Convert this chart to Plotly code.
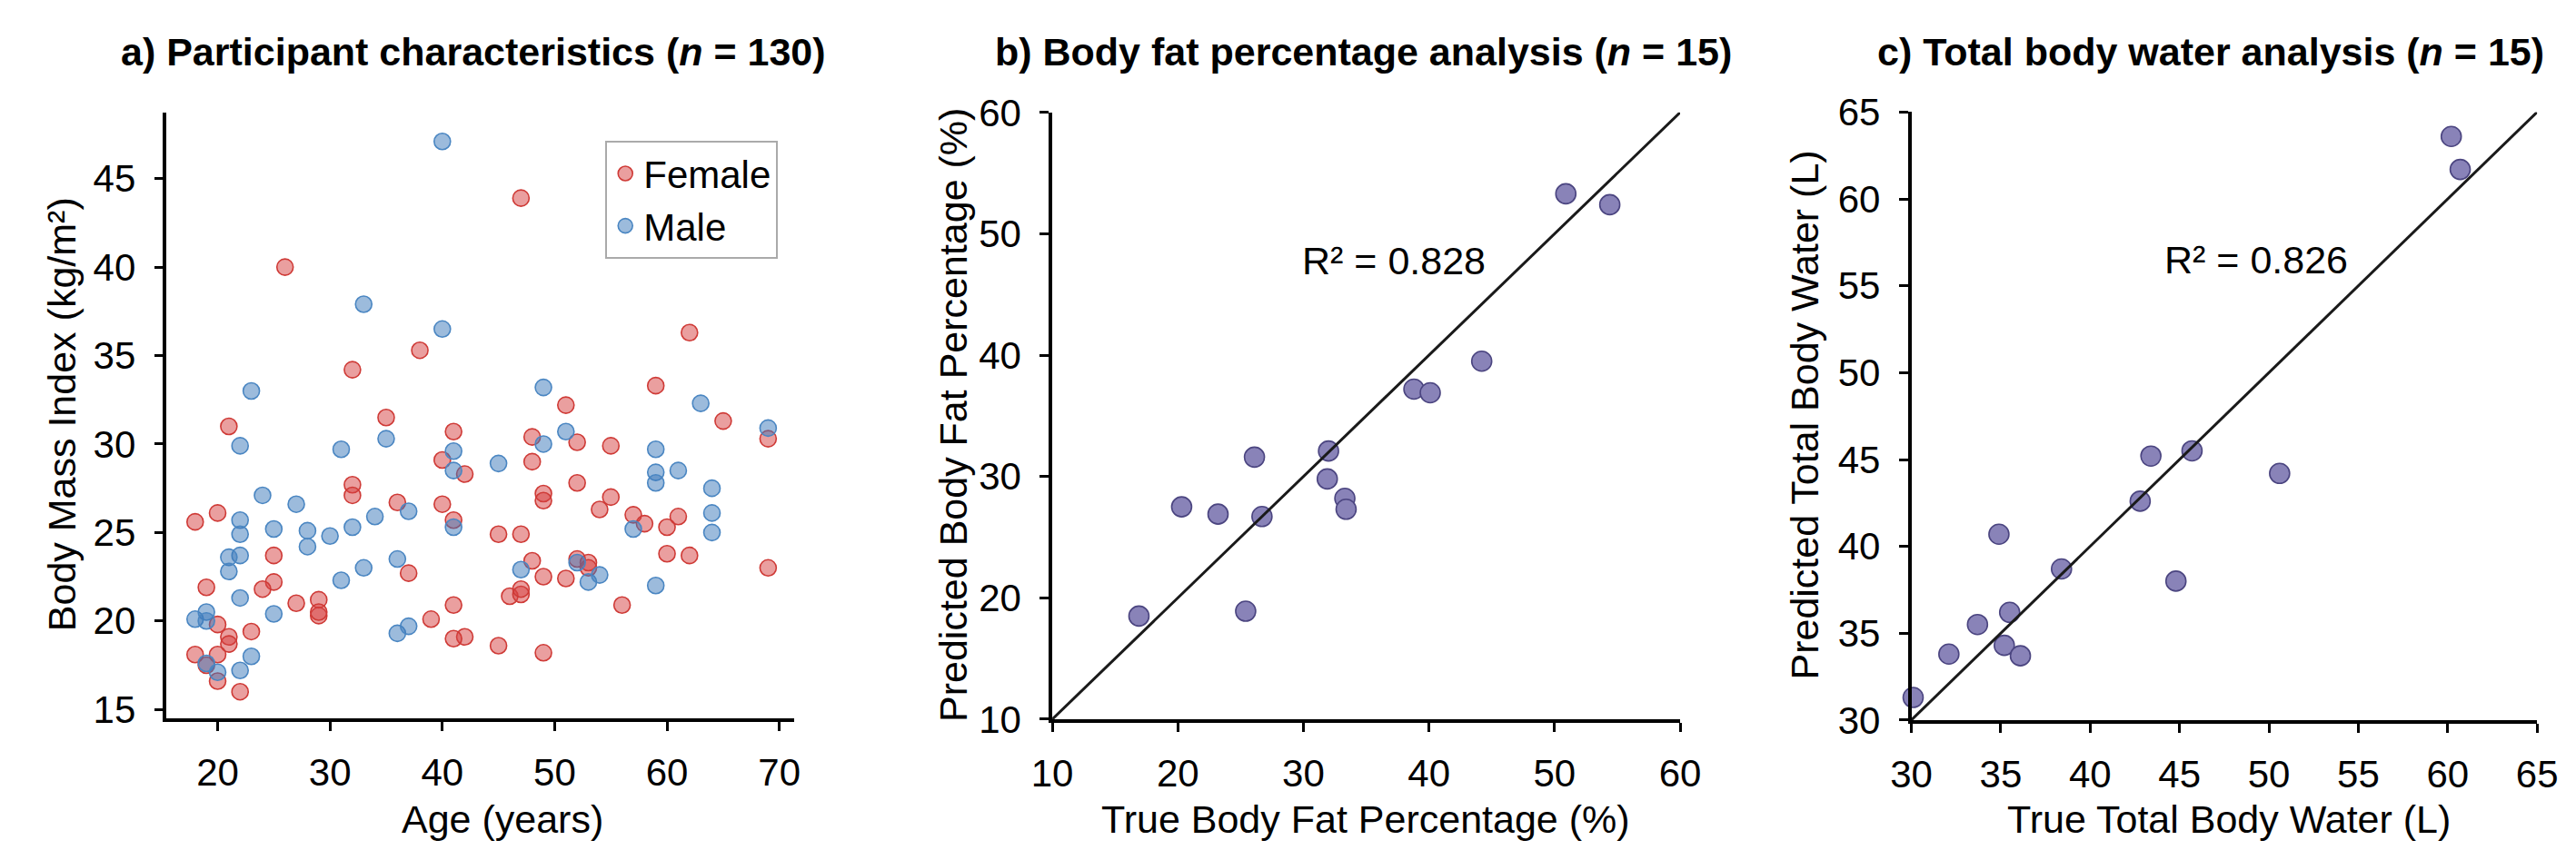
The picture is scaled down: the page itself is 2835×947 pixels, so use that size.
import plotly.graph_objects as go

# ---------------- data ----------------
# Panel a: participant characteristics
female_age = [26, 38, 32, 35, 21, 41, 47, 62, 59, 51, 65, 69, 48, 52, 55, 42, 48, 52, 49, 49,
              55, 54, 57, 58, 60, 61, 41, 45, 47, 60, 62, 69, 48, 49, 51, 52, 53, 53, 46, 47,
              47, 56, 41, 42, 41, 45, 49, 40, 32, 32, 36, 40, 20, 18, 25, 37, 25, 24, 19, 27,
              29, 29, 29, 20, 21, 21, 23, 39, 18, 20, 20, 22, 19]
female_bmi = [40.0, 35.3, 34.2, 31.5, 31.0, 30.7, 43.9, 36.3, 33.3, 32.2, 31.3, 30.3, 30.4, 30.1, 29.9, 28.3, 29.0, 27.8, 27.2, 26.8,
              27.0, 26.3, 26.0, 25.5, 25.3, 25.9, 25.7, 24.9, 24.9, 23.8, 23.7, 23.0, 23.4, 22.5, 22.4, 23.5, 23.3, 23.0, 21.4, 21.5,
              21.8, 20.9, 20.9, 19.1, 19.0, 18.6, 18.2, 29.1, 27.7, 27.1, 26.7, 26.6, 26.1, 25.6, 23.7, 22.7, 22.2, 21.8, 21.9, 21.0,
              21.2, 20.3, 20.5, 19.8, 19.1, 18.7, 19.4, 20.1, 18.1, 18.1, 16.6, 16.0, 17.5]
male_age = [40, 33, 40, 23, 35, 22, 31, 49, 63, 69, 51, 49, 59, 41, 41, 45, 59, 59, 61, 64,
            57, 64, 64, 41, 47, 52, 53, 54, 59, 24, 27, 37, 22, 22, 25, 28, 28, 30, 32, 34,
            22, 21, 21, 36, 33, 31, 22, 25, 18, 19, 19, 36, 37, 19, 20, 22, 23]
male_bmi = [47.1, 37.9, 36.5, 33.0, 30.3, 29.9, 29.7, 33.2, 32.3, 30.9, 30.7, 30.0, 29.7, 29.6, 28.5, 28.9, 28.4, 27.8, 28.5, 27.5,
            25.2, 26.1, 25.0, 25.3, 22.9, 23.3, 22.2, 22.6, 22.0, 27.1, 26.6, 26.2, 25.7, 24.9, 25.2, 25.1, 24.2, 24.8, 25.3, 25.9,
            23.7, 23.6, 22.8, 23.5, 23.0, 22.3, 21.3, 20.4, 20.1, 20.5, 20.0, 19.3, 19.7, 17.6, 17.1, 17.2, 18.0]

# Panel b: body fat percentage
bf_true = [16.9, 20.3, 23.2, 25.4, 26.1, 26.7, 31.9, 32.0, 33.3, 33.4, 38.8, 40.1, 44.2, 50.9, 54.4]
bf_pred = [18.5, 27.5, 26.9, 18.9, 31.6, 26.7, 29.8, 32.1, 28.2, 27.3, 37.2, 36.9, 39.5, 53.3, 52.4]
bf_r2 = 0.828

# Panel c: total body water
tbw_true = [30.1, 32.1, 33.7, 34.9, 35.2, 35.5, 36.1, 38.4, 42.8, 43.4, 44.8, 45.7, 50.6, 60.2, 60.7]
tbw_pred = [31.3, 33.8, 35.5, 40.7, 34.3, 36.2, 33.7, 38.7, 42.6, 45.2, 38.0, 45.5, 44.2, 63.6, 61.7]
tbw_r2 = 0.826

# tick labels / axis limits
age_ticks = [20, 30, 40, 50, 60, 70]
bmi_ticks = [15, 20, 25, 30, 35, 40, 45]
bf_ticks = [10, 20, 30, 40, 50, 60]
tbw_ticks = [30, 35, 40, 45, 50, 55, 60, 65]
bf_limits = [10, 60]
tbw_limits = [30, 65]

# ---------------- styling ----------------
W, H = 2835, 947
FONT = "Liberation Sans, Arial, sans-serif"
FS = 42


def xd(a, b):
    return [a / W, b / W]


def yd(top, bottom):
    return [1 - bottom / H, 1 - top / H]


axis_common = dict(
    showline=True, linecolor="black", linewidth=3.5,
    ticks="outside", ticklen=10, tickwidth=3, tickcolor="black",
    showgrid=False, zeroline=False,
    tickfont=dict(family=FONT, size=FS, color="black"),
)

fig = go.Figure()

fem_fill = "rgba(214,64,64,0.5)"
fem_edge = "#cf3a36"
male_fill = "rgba(58,120,186,0.5)"
male_edge = "#4a86c2"
purple_fill = "#8983b8"
purple_edge = "#4b4580"

fig.add_trace(go.Scatter(
    x=female_age, y=female_bmi, mode="markers", name="Female",
    marker=dict(size=18, color=fem_fill, line=dict(color=fem_edge, width=1.6)),
    xaxis="x", yaxis="y", cliponaxis=False))
fig.add_trace(go.Scatter(
    x=male_age, y=male_bmi, mode="markers", name="Male",
    marker=dict(size=18, color=male_fill, line=dict(color=male_edge, width=1.6)),
    xaxis="x", yaxis="y", cliponaxis=False))

fig.add_trace(go.Scatter(
    x=bf_true, y=bf_pred, mode="markers", showlegend=False,
    marker=dict(size=22, color=purple_fill, line=dict(color=purple_edge, width=1.6)),
    xaxis="x2", yaxis="y2", cliponaxis=False))
fig.add_trace(go.Scatter(
    x=bf_limits, y=bf_limits, mode="lines", showlegend=False,
    line=dict(color="#1a1a1a", width=3), xaxis="x2", yaxis="y2"))

fig.add_trace(go.Scatter(
    x=tbw_true, y=tbw_pred, mode="markers", showlegend=False,
    marker=dict(size=22, color=purple_fill, line=dict(color=purple_edge, width=1.6)),
    xaxis="x3", yaxis="y3", cliponaxis=False))
fig.add_trace(go.Scatter(
    x=tbw_limits, y=tbw_limits, mode="lines", showlegend=False,
    line=dict(color="#1a1a1a", width=3), xaxis="x3", yaxis="y3"))

fig.update_layout(
    width=W, height=H,
    margin=dict(l=0, r=0, t=0, b=0),
    paper_bgcolor="white", plot_bgcolor="white",
    font=dict(family=FONT, size=FS, color="black"),
    xaxis=dict(domain=xd(155, 856.7), range=[15.47, 71.3], tickvals=age_ticks,
               anchor="y", ticklabelstandoff=10, **axis_common),
    yaxis=dict(domain=yd(97.7, 800), range=[14.48, 48.74], tickvals=bmi_ticks,
               anchor="x", ticklabelstandoff=12, **axis_common),
    xaxis2=dict(domain=xd(1145.7, 1848), range=bf_limits, tickvals=bf_ticks,
                anchor="y2", ticklabelstandoff=10, **axis_common),
    yaxis2=dict(domain=yd(97.7, 800.7), range=bf_limits, tickvals=bf_ticks,
                anchor="x2", ticklabelstandoff=12, **axis_common),
    xaxis3=dict(domain=xd(2106.7, 2806.7), range=tbw_limits, tickvals=tbw_ticks,
                anchor="y3", ticklabelstandoff=10, **axis_common),
    yaxis3=dict(domain=yd(97.3, 801.7), range=tbw_limits, tickvals=tbw_ticks,
                anchor="x3", ticklabelstandoff=12, **axis_common),
    legend=dict(x=645.7 / W, y=1 - 130.7 / H, xanchor="left", yanchor="top",
                bgcolor="white", bordercolor="#aaaaaa", borderwidth=2,
                font=dict(family=FONT, size=FS, color="black"),
                itemsizing="trace"),
    showlegend=True,
)

ann = []


def paper_text(text, x, y, size=FS, angle=0, xanchor="center"):
    ann.append(dict(text=text, x=x / W, y=1 - y / H, xref="paper", yref="paper",
                    showarrow=False, xanchor=xanchor, yanchor="middle", textangle=angle,
                    font=dict(family=FONT, size=size, color="black")))


# panel titles
paper_text("<b>a) Participant characteristics (<i>n</i> = 130)</b>", 498, 27, size=43)
paper_text("<b>b) Body fat percentage analysis (<i>n</i> = 15)</b>", 1494, 27, size=43)
paper_text("<b>c) Total body water analysis (<i>n</i> = 15)</b>", 2442, 27, size=43)

# axis titles
paper_text("Age (years)", 531, 916, size=43)
paper_text("True Body Fat Percentage (%)", 1496, 916, size=43)
paper_text("True Total Body Water (L)", 2462, 916, size=43)
paper_text("Body Mass Index (kg/m²)", 37, 447, size=43, angle=-90)
paper_text("Predicted Body Fat Percentage (%)", 1035, 448, size=43, angle=-90)
paper_text("Predicted Total Body Water (L)", 1987, 448, size=43, angle=-90)

# R² annotations (data coordinates)
ann.append(dict(text=f"R² = {bf_r2:.3f}", x=37.2, y=47.8, xref="x2", yref="y2",
                showarrow=False, font=dict(family=FONT, size=43, color="black")))
ann.append(dict(text=f"R² = {tbw_r2:.3f}", x=49.3, y=56.5, xref="x3", yref="y3",
                showarrow=False, font=dict(family=FONT, size=43, color="black")))

fig.update_layout(annotations=ann)

fig.write_html("out.html")
